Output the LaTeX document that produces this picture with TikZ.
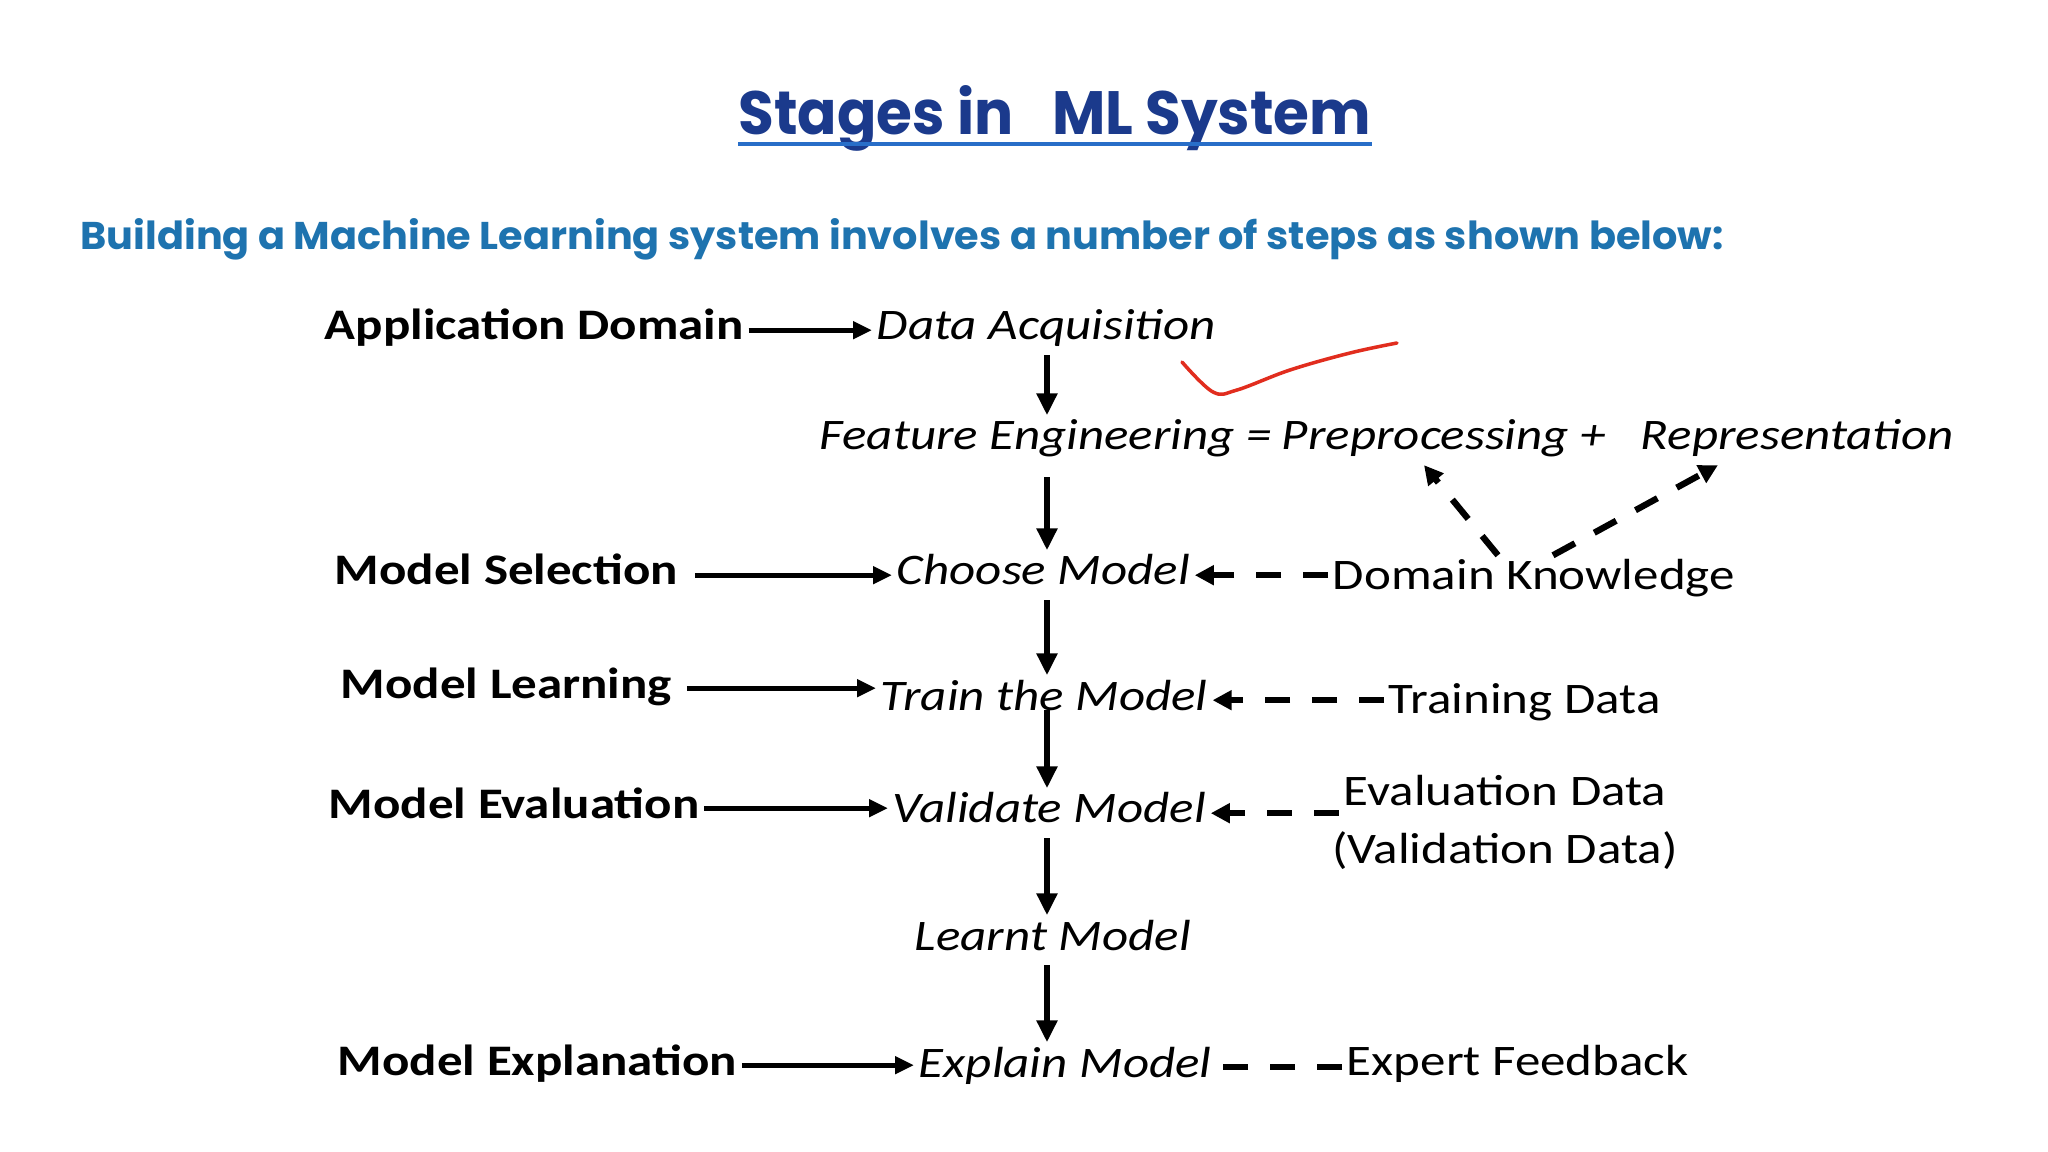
\documentclass[tikz,border=0pt]{standalone}
\usepackage{fontspec}
\setmainfont{Carlito}
\newfontfamily\comicfont{Poppins}
\usepackage{tikz}
\usetikzlibrary{arrows.meta,calc,positioning}
\definecolor{ctitle}{RGB}{27,58,140}
\definecolor{cline}{RGB}{40,110,200}
\definecolor{csub}{RGB}{30,115,175}
\definecolor{cpen}{RGB}{225,45,30}
\tikzset{
  lbl/.style={inner sep=1pt,anchor=base west,text height=0.305cm,text depth=0.109cm,
    font=\fontsize{12.4}{15}\selectfont,xscale=1.17},
  % left column: stage names, middle column: what is done, right: inputs
  stage/.style={lbl,font=\fontsize{12.4}{15}\selectfont\bfseries},
  task/.style={lbl,font=\fontsize{12.4}{15}\selectfont\itshape},
  src/.style={lbl},
  arr/.style={-{Triangle[length=1.9mm,width=1.7mm]},line width=1.5pt},
  varr/.style={-{Triangle[length=2.2mm,width=2mm]},line width=1.7pt},
  darr/.style={-{Triangle[length=1.9mm,width=1.9mm]},line width=1.8pt,
    dash pattern=on 2.5mm off 2.2mm},
  dline/.style={line width=1.8pt,dash pattern=on 2.5mm off 2.2mm}
}

\begin{document}
\begin{tikzpicture}
  \useasboundingbox[fill=white] (0,0) rectangle (20.48,-11.52);
  % heading
  \node[inner sep=0pt,anchor=base west,text=ctitle,xscale=0.95,
    font=\comicfont\bfseries\fontsize{17.4}{20}\selectfont] (title) at (7.38,-1.35)
    {Stages in\hspace{0.45em} ML System};
  \draw[cline,line width=1.2pt] ([yshift=-0.09cm]title.base west) -- ([yshift=-0.09cm]title.base east);
  \node[inner sep=0pt,anchor=base west,text=csub,xscale=1.03,
    font=\comicfont\bfseries\fontsize{11}{13}\selectfont] (intro) at (0.80,-2.50)
    {Building a Machine Learning system involves a number of steps as shown below:};

  \coordinate (sp) at (10.47,0);
  \node[stage] (ad) at (3.20,-3.40) {Application Domain};
  \node[task]  (da) at (8.72,-3.40) {Data Acquisition};
  \node[task]  (fe) at (8.15,-4.50) {Feature Engineering =};
  \node[task]  (pre) at (12.77,-4.50) {Preprocessing +};
  \node[task]  (rep) at (16.36,-4.50) {Representation};
  \node[stage] (ms) at (3.30,-5.85) {Model Selection};
  \node[task]  (cm) at (8.92,-5.85) {Choose Model};
  \node[src]   (dk) at (13.28,-5.90) {Domain Knowledge};
  \node[stage] (ml) at (3.36,-6.98) {Model Learning};
  \node[task]  (tm) at (8.76,-7.10) {Train the Model};
  \node[src]   (td) at (13.84,-7.13) {Training Data};
  \node[stage] (me) at (3.24,-8.18) {Model Evaluation};
  \node[task]  (vm) at (8.88,-8.23) {Validate Model};
  \node[src,anchor=base] (ed) at (15.05,-8.05) {Evaluation Data};
  \node[src,anchor=base] (vd) at (15.05,-8.63) {(Validation Data)};
  \node[task]  (lm) at (9.10,-9.50) {Learnt Model};
  \node[stage] (mx) at (3.33,-10.75) {Model Explanation};
  \node[task]  (em) at (9.14,-10.77) {Explain Model};
  \node[src]   (ef) at (13.42,-10.75) {Expert Feedback};

  % main chain
  \draw[varr] (da.south -| sp) -- (fe.north -| sp);
  \draw[varr,shorten <=1.2mm] (fe.south -| sp) -- (cm.north -| sp);
  \draw[varr] (cm.south -| sp) -- (tm.north -| sp);
  \draw[varr] (tm.base -| sp) -- (vm.north -| sp);
  \draw[varr] (vm.south -| sp) -- (lm.north -| sp);
  \draw[varr] (lm.south -| sp) -- (em.north -| sp);

  % stages to steps
  \draw[arr] (ad.east) -- (ad.east -| da.west);
  \draw[arr,shorten <=1.2mm] (ms.east) -- (ms.east -| cm.west);
  \draw[arr,shorten <=1mm] (ml.east) -- (ml.east -| tm.west);
  \draw[arr] (me.east) -- (me.east -| vm.west);
  \draw[arr] (mx.east) -- (mx.east -| em.west);

  % inputs
  \draw[darr] (dk.west |- cm.east) -- (cm.east);
  \draw[darr] ([xshift=1.70cm]dk.north west) -- ([xshift=1.47cm]pre.south west);
  \draw[darr] ([xshift=2.25cm]dk.north west) -- ([xshift=0.82cm]rep.south west);
  \draw[darr] (td.west |- tm.east) -- (tm.east);
  \draw[darr] (ed.west |- vm.east) -- (vm.east);
  \draw[dline] (ef.west |- em.east) -- (em.east);

  % pen mark
  \draw[cpen,line width=1pt,line cap=round] plot[smooth,tension=0.6] coordinates
    {(11.82,-3.62) (12.13,-3.92) (12.37,-3.90) (12.90,-3.70) (13.50,-3.53) (13.97,-3.43)};
\end{tikzpicture}
\end{document}
